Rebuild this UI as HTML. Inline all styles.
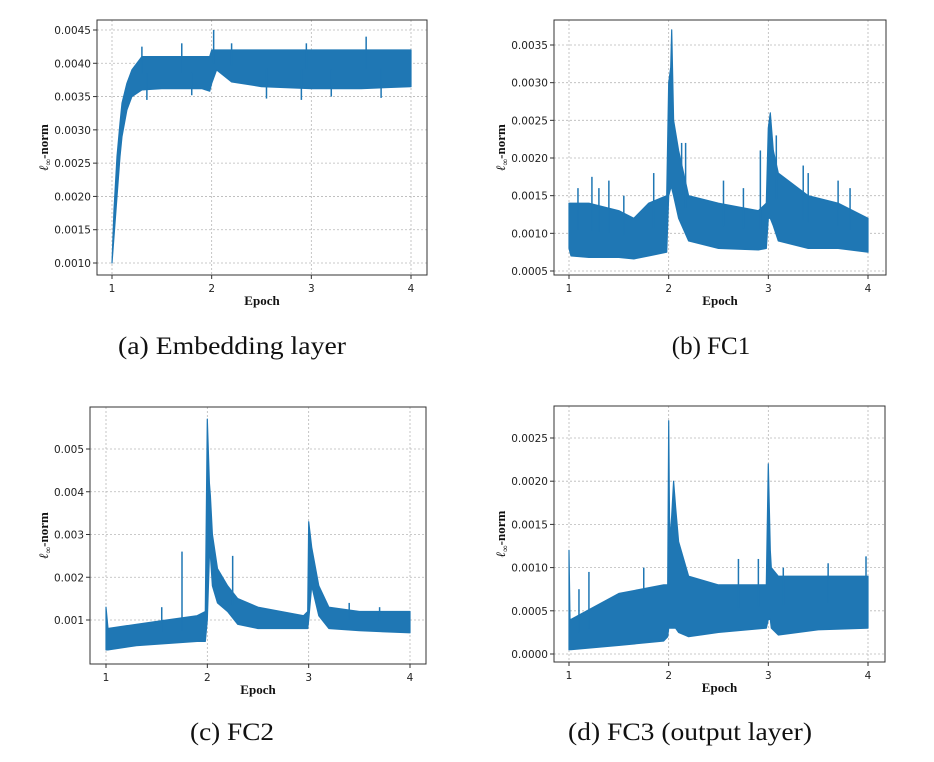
<!DOCTYPE html>
<html><head><meta charset="utf-8">
<style>
body{margin:0;background:#fff;width:934px;height:762px;overflow:hidden}
svg{display:block}
.tk{font-family:"DejaVu Sans","Liberation Sans",sans-serif;font-size:10.5px;fill:#222}
.lab{font-family:"Liberation Serif",serif;font-weight:bold;font-size:13px;fill:#111}
.cap{font-family:"Liberation Serif","DejaVu Serif",serif;font-size:25px;fill:#111}
</style></head>
<body>
<svg id="root" width="934" height="762">
<text class="cap" x="232" y="354" text-anchor="middle" textLength="228" lengthAdjust="spacingAndGlyphs">(a)  Embedding layer</text>
<text class="cap" x="711" y="354" text-anchor="middle">(b)  FC1</text>
<text class="cap" x="232" y="740" text-anchor="middle" textLength="84" lengthAdjust="spacingAndGlyphs">(c)  FC2</text>
<text class="cap" x="690" y="740" text-anchor="middle" textLength="244" lengthAdjust="spacingAndGlyphs">(d)  FC3 (output layer)</text>
</svg>
<script>
// ---- data (epoch envelope of noisy series) ----
const aX=[1.0,1.02,1.05,1.08,1.1,1.15,1.2,1.3,1.5,1.7,1.9,1.98,2.0,2.05,2.2,2.5,3.0,3.5,4.0];
const aLow=[0.0010,0.0014,0.0020,0.0026,0.0029,0.0033,0.0035,0.0036,0.00362,0.00362,0.00362,0.00358,0.0037,0.0039,0.00372,0.00365,0.00362,0.00362,0.00365];
const aHigh=[0.0010,0.0018,0.0026,0.0031,0.0034,0.0037,0.0039,0.0041,0.0041,0.0041,0.0041,0.0041,0.0042,0.0042,0.0042,0.0042,0.0042,0.0042,0.0042];
const aSpX=[1.3,1.7,2.02,2.2,2.95,3.55,1.35,2.55,2.9,3.7,1.8,3.2];
const aSpY=[0.00425,0.0043,0.0045,0.0043,0.0043,0.0044,0.00345,0.00347,0.00345,0.00348,0.00352,0.0035];

const bX=[1.0,1.02,1.2,1.5,1.65,1.8,1.98,2.0,2.02,2.03,2.05,2.1,2.2,2.5,2.9,2.98,3.0,3.02,3.05,3.1,3.4,3.7,4.0];
const bLow=[0.0008,0.0007,0.00068,0.00068,0.00066,0.0007,0.00075,0.0015,0.0016,0.0016,0.0015,0.0012,0.0009,0.0008,0.00078,0.0008,0.0012,0.0012,0.0011,0.0009,0.0008,0.0008,0.00075];
const bHigh=[0.0014,0.0014,0.0014,0.0013,0.0012,0.0014,0.0015,0.0030,0.0032,0.0037,0.0025,0.0021,0.0015,0.0014,0.0013,0.0014,0.0024,0.0026,0.0021,0.0018,0.0015,0.0014,0.0012];
const bSpX=[1.09,1.23,1.4,1.85,2.13,2.17,2.55,2.75,2.92,3.08,3.35,3.4,3.7,3.82,1.55,1.3];
const bSpY=[0.0016,0.00175,0.0017,0.0018,0.0022,0.0022,0.0017,0.0016,0.0021,0.0023,0.0019,0.0018,0.0017,0.0016,0.0015,0.0016];

const cX=[1.0,1.02,1.3,1.6,1.9,1.98,2.0,2.02,2.03,2.05,2.1,2.2,2.3,2.5,2.95,2.99,3.0,3.03,3.1,3.2,3.5,4.0];
const cLow=[0.0003,0.0003,0.0004,0.00045,0.0005,0.0005,0.0010,0.0025,0.0025,0.0018,0.0014,0.0012,0.0009,0.0008,0.0008,0.0008,0.0010,0.0018,0.0011,0.0008,0.00075,0.0007];
const cHigh=[0.0013,0.0008,0.0009,0.0010,0.0011,0.0012,0.0057,0.0042,0.0039,0.0030,0.0022,0.0018,0.0015,0.0013,0.0011,0.0012,0.0033,0.0027,0.0018,0.0013,0.0012,0.0012];
const cSpX=[1.75,2.25,1.55,3.4,3.7];
const cSpY=[0.0026,0.0025,0.0013,0.0014,0.0013];

const dX=[1.0,1.01,1.02,1.5,1.95,1.99,2.0,2.01,2.03,2.05,2.07,2.1,2.2,2.5,2.98,3.0,3.02,3.03,3.1,3.5,4.0];
const dLow=[0.00005,0.00005,0.00005,0.0001,0.00015,0.0002,0.0003,0.0003,0.0003,0.0003,0.0003,0.00025,0.0002,0.00025,0.0003,0.0004,0.0004,0.0003,0.00022,0.00028,0.0003];
const dHigh=[0.0012,0.0004,0.0004,0.0007,0.0008,0.0008,0.0027,0.0013,0.0016,0.0020,0.0017,0.0013,0.0009,0.0008,0.0008,0.0022,0.0012,0.0010,0.0009,0.0009,0.0009];
const dSpX=[1.2,1.75,2.7,2.9,3.15,3.6,3.98,1.1];
const dSpY=[0.00095,0.0010,0.0011,0.0011,0.0010,0.00105,0.00113,0.00075];

const aTicks=[0.0010,0.0015,0.0020,0.0025,0.0030,0.0035,0.0040,0.0045];
const bTicks=[0.0005,0.0010,0.0015,0.0020,0.0025,0.0030,0.0035];
const cTicks=[0.001,0.002,0.003,0.004,0.005];
const dTicks=[0.0000,0.0005,0.0010,0.0015,0.0020,0.0025];
const xTicks=[1,2,3,4];

const NS="http://www.w3.org/2000/svg";
const root=document.getElementById('root');
function mk(tag,attrs,parent){const e=document.createElementNS(NS,tag);for(const k in attrs)e.setAttribute(k,attrs[k]);(parent||root).appendChild(e);return e;}

function panel(id,box,xpx,ypx,yv,xs,lo,hi,spx,spy,ticks,dec,ylabX){
  const g=mk('g',{});
  
  
  const X=v=>xpx[0]+(v-1)*(xpx[1]-xpx[0])/3;
  const Y=v=>ypx[0]+(v-yv[0])*(ypx[1]-ypx[0])/(yv[1]-yv[0]);
  xTicks.forEach(t=>{const l=mk('line',{x1:X(t),x2:X(t),y1:box[1],y2:box[3],stroke:'#b8b8b8','stroke-dasharray':'2,2','stroke-width':0.8},g);
    
    const tx=mk('text',{x:X(t),y:box[3]+17,'text-anchor':'middle',class:'tk'},g);tx.textContent=t;
    
    mk('line',{x1:X(t),x2:X(t),y1:box[3],y2:box[3]+4,stroke:'#333'},g);});
  ticks.forEach(t=>{const l=mk('line',{x1:box[0],x2:box[2],y1:Y(t),y2:Y(t),stroke:'#b8b8b8','stroke-dasharray':'2,2','stroke-width':0.8},g);
    
    const tx=mk('text',{x:box[0]-6,y:Y(t)+4,'text-anchor':'end',class:'tk'},g);tx.textContent=t.toFixed(dec);
    
    mk('line',{x1:box[0]-4,x2:box[0],y1:Y(t),y2:Y(t),stroke:'#333'},g);});
  let pts=xs.map((x,i)=>X(x).toFixed(1)+','+Y(hi[i]).toFixed(1));
  for(let i=xs.length-1;i>=0;i--)pts.push(X(xs[i]).toFixed(1)+','+Y(lo[i]).toFixed(1));
  const p=mk('polygon',{points:pts.join(' '),fill:'#1f77b4',stroke:'#1f77b4','stroke-width':1.2,'stroke-linejoin':'round'},g);
  
  spx.forEach((sx,i)=>{
    let k=0;while(k<xs.length-2&&xs[k+1]<sx)k++;
    const f=(sx-xs[k])/(xs[k+1]-xs[k]);const mid=(lo[k]+(lo[k+1]-lo[k])*f+hi[k]+(hi[k+1]-hi[k])*f)/2;
    const s=mk('line',{x1:X(sx),x2:X(sx),y1:Y(mid),y2:Y(spy[i]),stroke:'#1f77b4','stroke-width':1.5},g);
    });
  const fr=mk('rect',{x:box[0],y:box[1],width:box[2]-box[0],height:box[3]-box[1],fill:'none',stroke:'#333','stroke-width':1},g);
  
  const xl=mk('text',{x:(box[0]+box[2])/2,y:box[3]+30,'text-anchor':'middle',class:'lab'},g);xl.textContent='Epoch';
  
  const cy=(box[1]+box[3])/2;
  const yl=mk('text',{x:ylabX,y:cy,'text-anchor':'middle',class:'lab',transform:'rotate(-90 '+ylabX+' '+cy+')'},g);
  yl.innerHTML='<tspan font-style="italic">ℓ</tspan><tspan font-size="9" dy="3">∞</tspan><tspan dy="-3">-norm</tspan>';
  
}
panel('a',[97,20,427,275],[112,411],[263,30],[0.0010,0.0045],aX,aLow,aHigh,aSpX,aSpY,aTicks,4,48);
panel('b',[554,20,886,275],[569,868],[271,45],[0.0005,0.0035],bX,bLow,bHigh,bSpX,bSpY,bTicks,4,505);
panel('c',[90,407,426,664],[106,410],[620,449],[0.001,0.005],cX,cLow,cHigh,cSpX,cSpY,cTicks,3,48);
panel('d',[554,406,885,662],[569,868],[654,438],[0.0,0.0025],dX,dLow,dHigh,dSpX,dSpY,dTicks,4,505);
</script>
</body></html>
